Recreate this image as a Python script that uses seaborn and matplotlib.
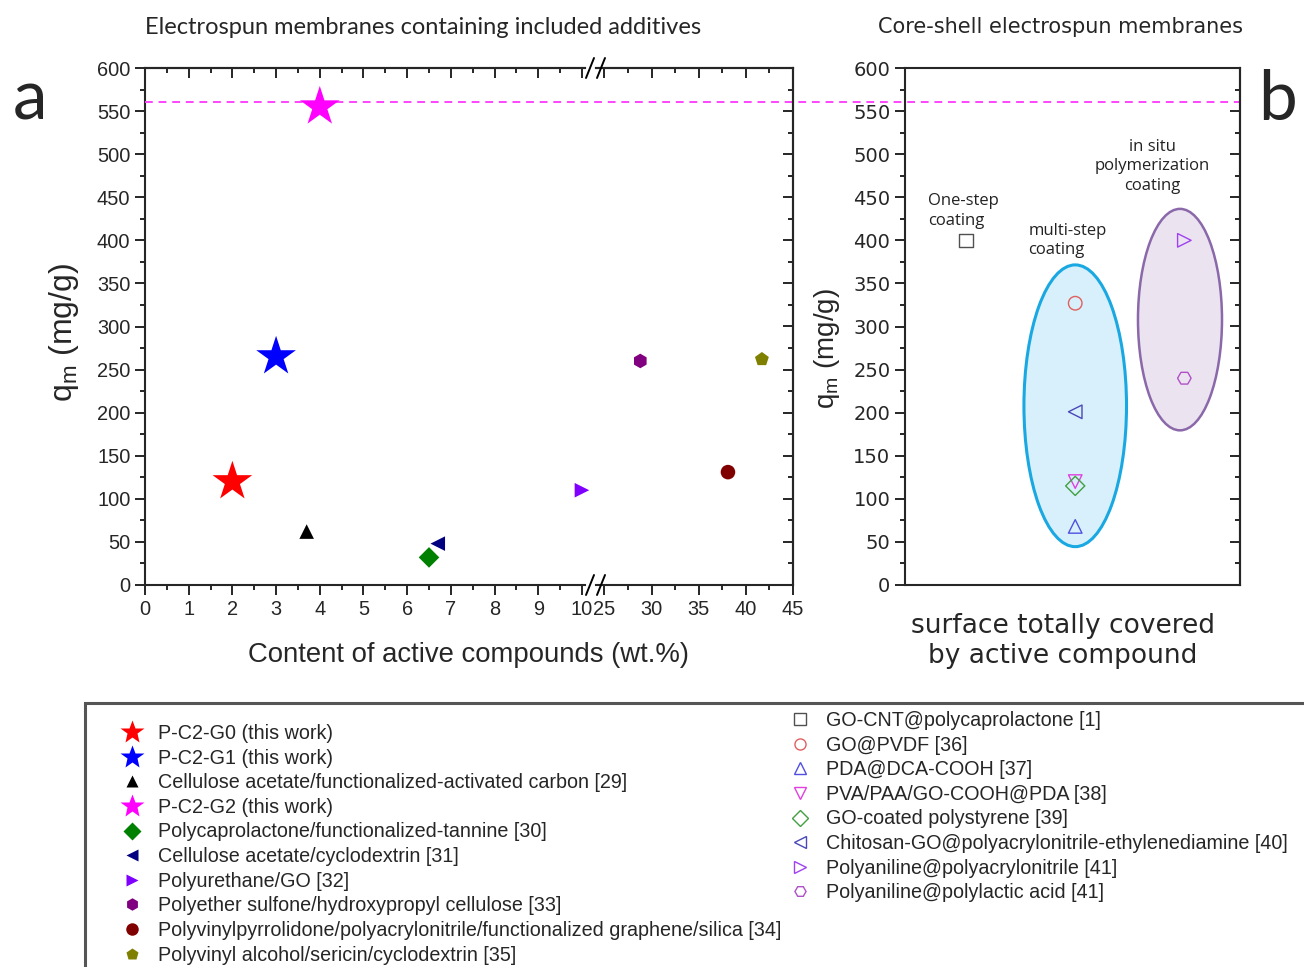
import matplotlib.pyplot as plt
import seaborn as sns
import pandas as pd
from matplotlib.lines import Line2D
from matplotlib.patches import Ellipse, Rectangle
from matplotlib.ticker import MultipleLocator
import matplotlib.transforms as mtransforms

sns.set_style('ticks')
plt.rcParams['font.family'] = ['Liberation Sans', 'DejaVu Sans']

# ---- panel a: membranes with included additives ----
a_labels = ['P-C2-G0 (this work)', 'P-C2-G1 (this work)',
            'Cellulose acetate/functionalized-activated carbon [29]',
            'P-C2-G2 (this work)',
            'Polycaprolactone/functionalized-tannine [30]',
            'Cellulose acetate/cyclodextrin [31]',
            'Polyurethane/GO [32]',
            'Polyether sulfone/hydroxypropyl cellulose [33]',
            'Polyvinylpyrrolidone/polyacrylonitrile/functionalized graphene/silica [34]',
            'Polyvinyl alcohol/sericin/cyclodextrin [35]']
a_x = [2, 3, 3.7, 4, 6.5, 6.7, 10, 28.8, 38.1, 41.7]
a_y = [120, 265, 62, 555, 32, 48, 110, 260, 131, 262]
a_markers = ['*', '*', '^', '*', 'D', '<', '>', 'h', 'o', 'p']
a_colors = ['#ff0000', '#0000ff', '#000000', '#ff00ff', '#008000',
            '#000080', '#8000ff', '#800080', '#800000', '#808000']

# ---- panel b: core-shell membranes ----
b_labels = ['GO-CNT@polycaprolactone [1]', 'GO@PVDF [36]', 'PDA@DCA-COOH [37]',
            'PVA/PAA/GO-COOH@PDA [38]', 'GO-coated polystyrene [39]',
            'Chitosan-GO@polyacrylonitrile-ethylenediamine [40]',
            'Polyaniline@polyacrylonitrile [41]', 'Polyaniline@polylactic acid [41]']
b_group = [1, 2, 2, 2, 2, 2, 3, 3]
b_y = [400, 327, 68, 120, 115, 201, 400, 240]
b_markers = ['s', 'o', '^', 'v', 'D', '<', '>', 'H']
b_colors = ['#505050', '#e06060', '#5050e0', '#e040e0', '#40a040',
            '#4848b8', '#a040f0', '#b050c8']

max_line = 560

W, H = 1304, 967
fig = plt.figure(figsize=(W / 100, H / 100), dpi=100)


def fx(px):
    return px / W


def fy(py):
    return 1 - py / H


bot, top = fy(585), fy(68)
ax1 = fig.add_axes([fx(145), bot, fx(585) - fx(145), top - bot])
ax2 = fig.add_axes([fx(596), bot, fx(793) - fx(596), top - bot], sharey=ax1)
axb = fig.add_axes([fx(905), bot, fx(1240) - fx(905), top - bot])
for ax in (ax1, ax2, axb):
    ax.set_facecolor('none')

df_a = pd.DataFrame({'x': a_x, 'y': a_y})
for i, row in df_a.iterrows():
    ax = ax1 if row.x <= 10 else ax2
    big = a_markers[i] == '*'
    sns.scatterplot(x=[row.x], y=[row.y], ax=ax, marker=a_markers[i],
                    color=a_colors[i], s=900 if big else 110,
                    edgecolor='none', clip_on=False, legend=False, zorder=4)

df_b = pd.DataFrame({'x': b_group, 'y': b_y})
for i, row in df_b.iterrows():
    sns.scatterplot(x=[row.x], y=[row.y], ax=axb, marker=b_markers[i],
                    facecolor='none', edgecolor=b_colors[i], s=95,
                    linewidth=1.0, legend=False, zorder=4)

# ellipses grouping the coating types
axb.add_patch(Ellipse((2.0, 208), 0.94, 327, facecolor='#d8f0fb',
                      edgecolor='#1aa8e2', lw=2.2, zorder=2))
axb.add_patch(Ellipse((2.96, 308), 0.77, 257, facecolor='#ebe4f0',
                      edgecolor='#8a68aa', lw=1.8, zorder=2))

note_kw = dict(family=['Open Sans', 'DejaVu Sans'], fontsize=12,
               color='#222222', linespacing=1.3, va='center')
axb.text(0.65, 434, 'One-step\ncoating', ha='left', **note_kw)
axb.text(1.57, 400, 'multi-step\ncoating', ha='left', **note_kw)
axb.text(2.71, 486, 'in situ\npolymerization\ncoating', ha='center',
         multialignment='center', **note_kw)

# axis limits & ticks
ax1.set_xlim(0, 10.07)
ax2.set_xlim(24.1, 45)
axb.set_xlim(0.44, 3.51)
for ax in (ax1, ax2, axb):
    ax.set_ylim(0, 600)
    ax.set_xlabel('')
    ax.set_ylabel('')
    for sp in ax.spines.values():
        sp.set_linewidth(1.5)
        sp.set_visible(True)

ax1.xaxis.set_major_locator(MultipleLocator(1))
ax1.xaxis.set_minor_locator(MultipleLocator(0.5))
ax2.xaxis.set_major_locator(MultipleLocator(5))
ax2.xaxis.set_minor_locator(MultipleLocator(2.5))
ax1.yaxis.set_major_locator(MultipleLocator(50))
ax1.yaxis.set_minor_locator(MultipleLocator(25))
axb.yaxis.set_major_locator(MultipleLocator(50))
axb.yaxis.set_minor_locator(MultipleLocator(25))

tick_kw = dict(which='both', width=1.4, direction='out')
ax1.tick_params(**tick_kw, top=False, right=False, labelsize=14.4)
ax2.tick_params(**tick_kw, top=False, right=False, left=False,
                labelleft=False, labelsize=14.4)
axb.tick_params(axis='y', **tick_kw, right=False, labelsize=14)
axb.tick_params(axis='x', bottom=False, labelbottom=False)
for ax in (ax1, ax2, axb):
    ax.tick_params(which='major', length=7)
    ax.tick_params(which='minor', length=3.6)
for lab in axb.get_yticklabels():
    lab.set_family('DejaVu Sans')

ax1.spines['right'].set_visible(False)
ax2.spines['left'].set_visible(False)

# inward mirrored ticks on top / right
for ax, step, minor in ((ax1, 1, 0.5), (ax2, 5, 2.5)):
    sec = ax.secondary_xaxis('top')
    sec.xaxis.set_major_locator(MultipleLocator(step))
    sec.xaxis.set_minor_locator(MultipleLocator(minor))
    sec.tick_params(which='both', direction='in', labeltop=False, width=1.4)
    sec.tick_params(which='major', length=7)
    sec.tick_params(which='minor', length=3.6)
    sec.spines['top'].set_linewidth(1.5)
for ax in (ax2, axb):
    sec = ax.secondary_yaxis('right')
    sec.yaxis.set_major_locator(MultipleLocator(50))
    sec.yaxis.set_minor_locator(MultipleLocator(25))
    sec.tick_params(which='both', direction='in', labelright=False, width=1.4)
    sec.tick_params(which='major', length=7)
    sec.tick_params(which='minor', length=3.6)
    sec.spines['right'].set_linewidth(1.5)

# axis break marks
for py in (68, 585):
    for px in (586, 597):
        fig.add_artist(Line2D([fx(px), fx(px + 8)], [fy(py + 10), fy(py - 10)],
                              color='black', lw=1.4))

# dashed line at the maximum capacity, running across both panels
trans = mtransforms.blended_transform_factory(fig.transFigure, ax1.transData)
ax1.plot([fx(145), fx(1240)], [max_line, max_line], transform=trans,
         color='#ff44ff', lw=1.4, ls=(0, (4, 3)), clip_on=False, zorder=3)

# labels and titles
fig.text(fx(423), fy(27), 'Electrospun membranes containing included additives',
         family=['Lato', 'DejaVu Sans'], fontsize=17, ha='center', va='center')
fig.text(fx(1061), fy(27), 'Core-shell electrospun membranes',
         family='DejaVu Sans', fontsize=15, ha='center', va='center')
fig.text(fx(30), fy(100), 'a', family=['Lato', 'DejaVu Sans'], fontsize=50,
         ha='center', va='center')
fig.text(fx(1278), fy(100), 'b', family=['Lato', 'DejaVu Sans'], fontsize=50,
         ha='center', va='center')
fig.text(fx(469), fy(655), 'Content of active compounds (wt.%)',
         fontsize=19.8, ha='center', va='center')
fig.text(fx(64), fy(332), 'q$_\\mathregular{m}$ (mg/g)', fontsize=23,
         rotation=90, ha='center', va='center')
fig.text(fx(827), fy(349), 'q$_\\mathregular{m}$ (mg/g)', fontsize=20,
         rotation=90, ha='center', va='center')
fig.text(fx(1063), fy(641), 'surface totally covered\nby active compound',
         family='DejaVu Sans', fontsize=19, ha='center', va='center',
         linespacing=1.2)

# legend box and the two legend columns
fig.add_artist(Rectangle((fx(85), fy(1000)), fx(1330) - fx(85), fy(703) - fy(1000),
                         transform=fig.transFigure, fill=False,
                         edgecolor='#555555', lw=2.2))

left_handles = [Line2D([], [], ls='none', marker=m, color=c, mec='none',
                       markersize=18 if m == '*' else 9)
                for m, c in zip(a_markers, a_colors)]
right_handles = [Line2D([], [], ls='none', marker=m, mfc='none', mec=c,
                        markersize=8, mew=1.0)
                 for m, c in zip(b_markers, b_colors)]
leg_kw = dict(loc='upper left', frameon=False, fontsize=14.2, handlelength=0.9,
              handletextpad=0.85, borderpad=0, borderaxespad=0,
              labelspacing=0.285)
fig.legend(left_handles, a_labels, bbox_to_anchor=(fx(123), fy(724)), **leg_kw)
fig.legend(right_handles, b_labels, bbox_to_anchor=(fx(791), fy(711)), **leg_kw)

fig.savefig('out.png', dpi=100)
